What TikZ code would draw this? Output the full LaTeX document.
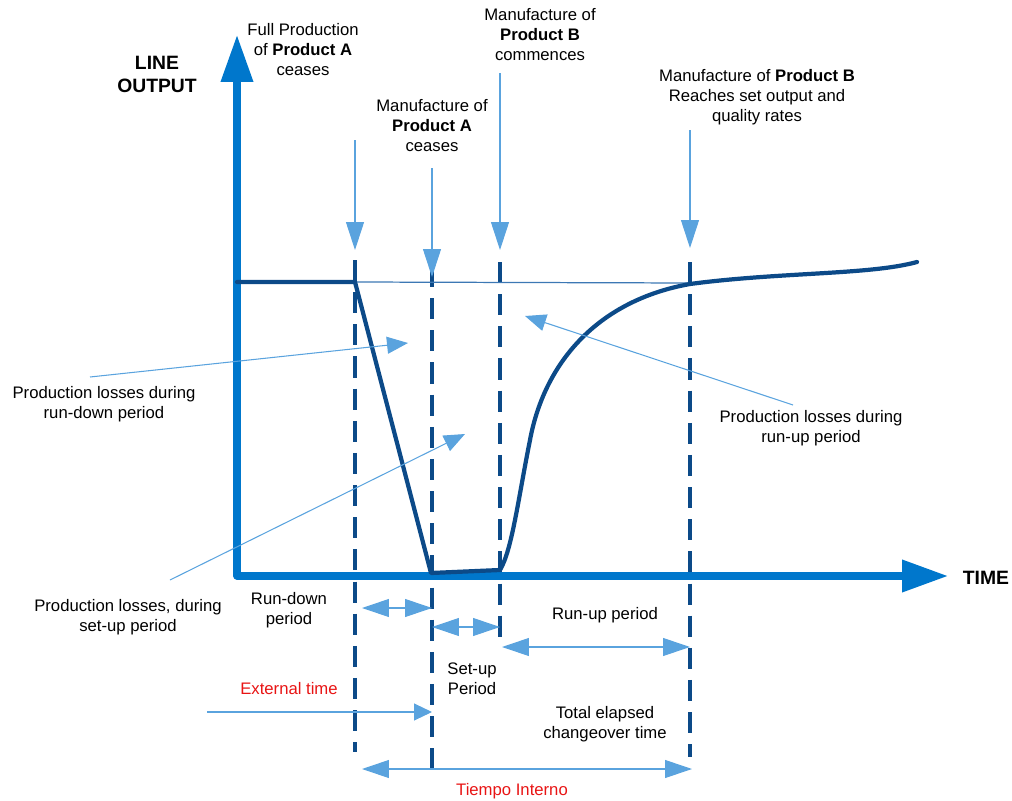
\documentclass[tikz,border=0pt]{standalone}
\usepackage{fontspec}
\setmainfont{Liberation Sans}
\usetikzlibrary{arrows.meta}
\definecolor{axisblue}{RGB}{0,119,204}
\definecolor{darkblue}{RGB}{12,74,136}
\definecolor{lightblue}{RGB}{90,163,222}
\definecolor{refblue}{RGB}{60,120,180}
\definecolor{lblred}{RGB}{232,20,20}
\begin{document}
\begin{tikzpicture}[x=0.02cm,y=-0.02cm,
  font=\fontsize{9.5}{11.4}\selectfont,
  lbl/.style={align=center, inner sep=0pt, text=black},
  redlbl/.style={align=center, inner sep=0pt, text=lblred},
  axisline/.style={axisblue, line width=4pt, line join=round,
    {Triangle[length=0.94cm,width=0.62cm]}-{Triangle[length=0.92cm,width=0.62cm]}},
  outline/.style={darkblue, line width=2.4pt, line join=round, line cap=round},
  refline/.style={refblue, line width=0.7pt},
  vdash/.style={darkblue, line width=2.1pt, dash pattern=on 12pt off 6.3pt},
  pointer/.style={lightblue, line width=0.6pt, -{Triangle[length=0.56cm,width=0.36cm]}},
  leader/.style={lightblue, line width=0.6pt, -{Triangle[length=0.42cm,width=0.34cm]}},
  extarrow/.style={lightblue, line width=0.6pt, -{Triangle[length=0.36cm,width=0.34cm]}},
  period/.style={lightblue, line width=0.6pt,
    {Triangle[length=0.54cm,width=0.36cm]}-{Triangle[length=0.54cm,width=0.36cm]}},
]
\useasboundingbox (0,0) rectangle (1012,801);

% key coordinates
\coordinate (ytip) at (237,35);
\coordinate (orig) at (237,576);
\coordinate (xtip) at (948,576);
\coordinate (a0) at (237,282);
\coordinate (a1) at (355,282);
\coordinate (a2) at (431,573);
\coordinate (a3) at (500,570);
\coordinate (a4) at (530,440);
\coordinate (a5) at (690,284);
\coordinate (a6) at (917,262);
\coordinate (r1) at (690,283);

% dashed verticals
\coordinate (d1t) at (355,260); \coordinate (d1b) at (355,752);
\coordinate (d2t) at (432,266); \coordinate (d2b) at (432,770);
\coordinate (d3t) at (500,262); \coordinate (d3b) at (500,637);
\coordinate (d4t) at (690,262); \coordinate (d4b) at (690,757);
\draw[vdash] (d1t) -- (d1b);
\draw[vdash] (d2t) -- (d2b);
\draw[vdash] (d3t) -- (d3b);
\draw[vdash] (d4t) -- (d4b);

% reference level line
\draw[refline] (a1) -- (r1);

% axes
\draw[axisline] (ytip) -- (orig) -- (xtip);

% output curve
\draw[outline] (a0) -- (a1) -- (a2) -- (a3)
  .. controls (512,550) and (518,500) .. (a4)
  .. controls (545,360) and (600,300) .. (a5)
  .. controls (780,272) and (870,275) .. (a6);

% axis labels
\node[lbl, font=\bfseries\fontsize{11}{13.1}\selectfont] (ylab) at (157,74) {LINE\\OUTPUT};
\node[lbl, font=\bfseries\fontsize{11}{13.1}\selectfont] (xlab) at (986,578) {TIME};

% top event labels
\node[lbl] (evA) at (303,50) {Full Production\\of \textbf{Product A}\\ceases};
\node[lbl] (evB) at (432,126) {Manufacture of\\\textbf{Product A}\\ceases};
\node[lbl] (evC) at (540,35) {Manufacture of\\\textbf{Product B}\\commences};
\node[lbl] (evD) at (757,97) {Manufacture of \textbf{Product B}\\Reaches set output and\\quality rates};

% pointer arrows
\coordinate (p1s) at (355,140); \coordinate (p1e) at (355,250);
\coordinate (p2s) at (432,168); \coordinate (p2e) at (432,277);
\coordinate (p3s) at (500,73);  \coordinate (p3e) at (500,250);
\coordinate (p4s) at (690,130); \coordinate (p4e) at (690,248);
\draw[pointer] (p1s) -- (p1e);
\draw[pointer] (p2s) -- (p2e);
\draw[pointer] (p3s) -- (p3e);
\draw[pointer] (p4s) -- (p4e);

% losses labels and leaders
\node[lbl] (lossRD) at (104,404) {Production losses during\\run-down period};
\node[lbl] (lossSU) at (128,617) {Production losses, during\\set-up period};
\node[lbl] (lossRU) at (811,428) {Production losses during\\run-up period};
\coordinate (l1s) at (90,377);  \coordinate (l1e) at (408,343);
\coordinate (l2s) at (170,580); \coordinate (l2e) at (465,434);
\coordinate (l3s) at (793,405); \coordinate (l3e) at (525,316);
\draw[leader] (l1s) -- (l1e);
\draw[leader] (l2s) -- (l2e);
\draw[leader] (l3s) -- (l3e);

% period labels
\node[lbl] (rdl) at (289,610) {Run-down\\period};
\node[lbl] (sul) at (472,679) {Set-up\\Period};
\node[lbl] (rul) at (605,615) {Run-up period};
\node[lbl] (tot) at (605,724) {Total elapsed\\changeover time};
\node[redlbl] (ext) at (289,689) {External time};
\node[redlbl] (tin) at (512,791) {Tiempo Interno};

% period arrows
\coordinate (rd1) at (362,608); \coordinate (rd2) at (432,608);
\coordinate (su1) at (432,627); \coordinate (su2) at (500,627);
\coordinate (ru1) at (502,647); \coordinate (ru2) at (690,647);
\coordinate (ti1) at (362,769); \coordinate (ti2) at (692,769);
\coordinate (ex1) at (207,712); \coordinate (ex2) at (432,712);
\draw[period] (rd1) -- (rd2);
\draw[period] (su1) -- (su2);
\draw[period] (ru1) -- (ru2);
\draw[period] (ti1) -- (ti2);
\draw[extarrow] (ex1) -- (ex2);
\end{tikzpicture}
\end{document}
